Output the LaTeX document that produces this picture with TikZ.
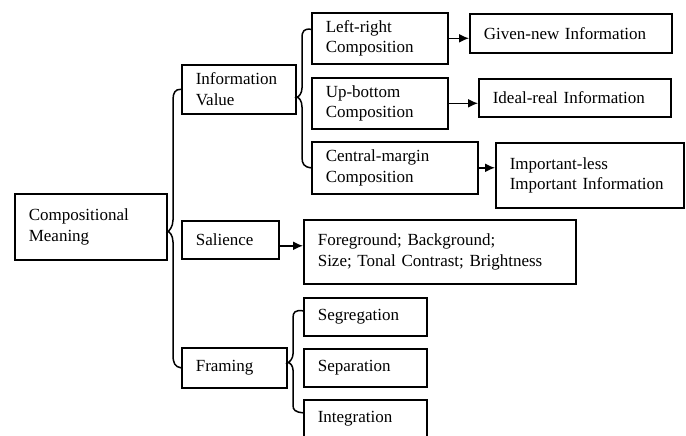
\documentclass[tikz,border=0pt]{standalone}
\usepackage{fontspec}
\setmainfont{Liberation Serif}
\usetikzlibrary{arrows.meta,calc}
\begin{document}
\begin{tikzpicture}[x=1pt,y=-1pt,
 box/.style={draw, line width=1.6pt, anchor=north west, inner xsep=14pt, inner ysep=0pt, align=left, font=\fontsize{17}{20.5}\selectfont},
 brace/.style={line width=1.5pt},
 arr/.style={line width=1.5pt,-{Latex[length=10pt,width=9pt]}}]
\clip (0,0) rectangle (686,436);
% level 0
\node[box, text width=124pt, minimum height=66pt] (cm) at (14,193) {Compositional\\Meaning};
% level 1
\node[box, text width=86pt, minimum height=49pt] (iv) at (181,64) {Information\\Value};
\node[box, text width=69pt, minimum height=38pt] (sal) at (181,220) {Salience};
\node[box, text width=77pt, minimum height=40pt] (fr) at (181,347) {Framing};
% level 2
\node[box, text width=108pt, minimum height=51pt] (lr) at (311,12) {Left-right\\Composition};
\node[box, text width=108pt, minimum height=51pt] (ub) at (311,77) {Up-bottom\\Composition};
\node[box, text width=138pt, minimum height=52pt] (cmg) at (311,141) {Central-margin\\Composition};
\node[box, text width=244pt, minimum height=64pt] (fg) at (303,219) {Foreground; Background;\\Size; Tonal Contrast; Brightness};
\node[box, text width=95pt, minimum height=38pt] (seg) at (303,297) {Segregation};
\node[box, text width=95pt, minimum height=38pt] (sep) at (303,348) {Separation};
\node[box, text width=95pt, minimum height=38pt] (int) at (303,399) {Integration};
% level 3
\node[box, text width=174pt, minimum height=39pt] (gn) at (469,13) {Given-new Information};
\node[box, text width=164pt, minimum height=38pt] (ir) at (478,78) {Ideal-real Information};
\node[box, text width=160pt, minimum height=65pt] (il) at (495,142) {Important-less\\Important Information};
% braces
\draw[brace] (iv.west) .. controls (175,89) and (173,93) .. (173,100)
  -- (173,220) .. controls (173,227) and (169,231) .. ($(cm.east)+(0,5)$)
  .. controls (169,231) and (173,235) .. (173,242)
  -- (173,355) .. controls (173,363) and (175,367) .. (fr.west);
\draw[brace] ($(lr.west)+(0,-9)$) .. controls (304,28.5) and (302,31) .. (302,38)
  -- (302,88) .. controls (302,93) and (299,97) .. ($(iv.east)+(0,8)$)
  .. controls (299,97) and (302,101) .. (302,107)
  -- (302,157) .. controls (302,164) and (304,167) .. (cmg.west);
\draw[brace] ($(seg.west)+(0,-6)$) .. controls (295,310) and (293,312) .. (293,318)
  -- (293,354) .. controls (293,358) and (290,362) .. ($(fr.east)+(0,-5)$)
  .. controls (290,362) and (293,366) .. (293,370)
  -- (293,405) .. controls (293,410) and (295,412) .. ($(int.west)+(0,-6)$);
% arrows
\draw[arr] (lr.east) -- (lr.east -| gn.west);
\draw[arr] (ub.east) -- (ub.east -| ir.west);
\draw[arr] (cmg.east) -- (cmg.east -| il.west);
\draw[arr] ([yshift=-6pt]sal.east) -- ([yshift=-6pt]sal.east -| fg.west);
\end{tikzpicture}
\end{document}
